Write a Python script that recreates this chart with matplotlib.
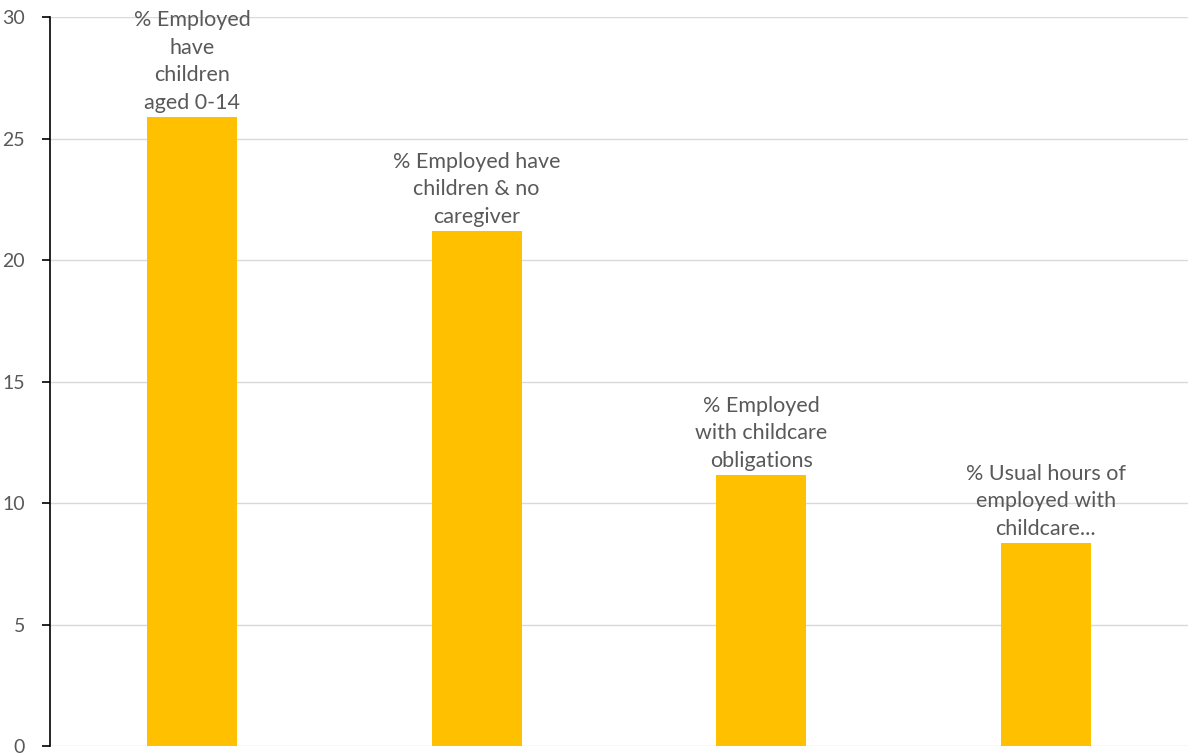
import matplotlib.pyplot as plt

# Bar labels as they are wrapped in the chart
labels = [
    "% Employed\nhave\nchildren\naged 0-14",
    "% Employed have\nchildren & no\ncaregiver",
    "% Employed\nwith childcare\nobligations",
    "% Usual hours of\nemployed with\nchildcare...",
]
values = [25.9, 21.2, 11.15, 8.35]
y_ticks = [0, 5, 10, 15, 20, 25, 30]

plt.rcParams["font.family"] = ["Lato", "DejaVu Sans"]

fig = plt.figure(figsize=(11.88, 7.53), dpi=100)
ax = fig.add_axes([0.042, 0.0093, 0.958, 0.968])

x = range(len(values))
bars = ax.bar(x, values, width=0.317, color="#FFC000", zorder=3)

for xi, val, lab in zip(x, values, labels):
    ax.annotate(lab, (xi, val), xytext=(0, 3), textcoords="offset points",
                ha="center", va="bottom", fontsize=15.5, color="#595959",
                linespacing=1.47, zorder=4)

ax.set_xlim(-0.5, len(values) - 0.5)
ax.set_ylim(0, 30)
ax.set_yticks(y_ticks)
ax.set_xticks([])
ax.yaxis.grid(True, color="#D9D9D9", linewidth=1, zorder=0)
ax.tick_params(axis="y", length=6, width=1.2, colors="black",
               labelcolor="#595959", labelsize=14, pad=12)

for side in ["top", "right", "bottom"]:
    ax.spines[side].set_visible(False)
ax.spines["left"].set_linewidth(1.2)
ax.spines["left"].set_zorder(5)

fig.savefig("out.png", dpi=100)
